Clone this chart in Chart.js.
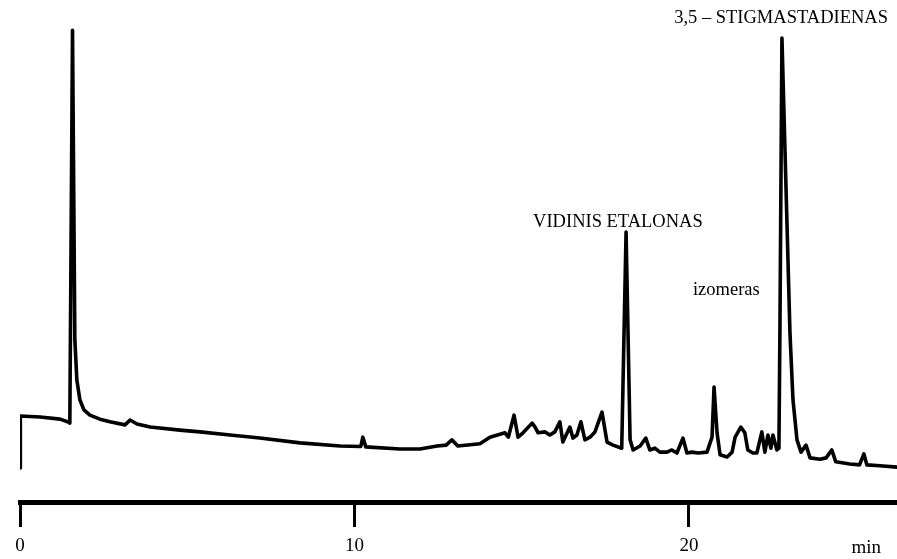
<!DOCTYPE html>
<html>
<head>
<meta charset="utf-8">
<title>Chromatograma</title>
<script src="https://cdn.jsdelivr.net/npm/chart.js@4/dist/chart.umd.min.js"></script>
<style>
  html, body { margin: 0; padding: 0; background: #fff; }
  canvas { display: block; }
</style>
</head>
<body>
<canvas id="chromatogram" width="897" height="559"></canvas>
<script>
// retention time (min) and detector response of the trace
const retentionMin = [
  0, 0.01, 0.6, 1.2, 1.46, 1.49, 1.57, 1.64, 1.70, 1.79,
  1.91, 2.09, 2.39, 2.69, 3.14, 3.29, 3.50, 3.89, 4.78, 5.38,
  6.28, 7.17, 8.37, 9.57, 10.19, 10.25, 10.34, 11.36, 11.96, 12.47,
  12.74, 12.91, 13.09, 13.75, 14.05, 14.50, 14.60, 14.77, 14.89, 15.04,
  15.31, 15.40, 15.49, 15.70, 15.84, 15.99, 16.14, 16.23, 16.44, 16.53,
  16.65, 16.77, 16.89, 17.04, 17.19, 17.40, 17.55, 17.73, 17.99, 18.12,
  18.24, 18.33, 18.54, 18.71, 18.83, 18.98, 19.13, 19.34, 19.49, 19.64,
  19.82, 19.94, 20.09, 20.27, 20.54, 20.69, 20.75, 20.84, 20.93, 21.14,
  21.29, 21.38, 21.55, 21.67, 21.76, 21.91, 22.03, 22.18, 22.27, 22.36,
  22.45, 22.51, 22.63, 22.69, 22.72, 22.78, 23.02, 23.11, 23.23, 23.35,
  23.50, 23.62, 23.92, 24.10, 24.27, 24.39, 24.81, 25.10, 25.23, 25.32,
  25.71, 26.22
];
const detectorSignal = [
  0, 11.8, 11.6, 11.1, 10.4, 10.2, 99.5, 29.1, 20.0, 15.5,
  13.2, 12.0, 11.1, 10.5, 9.8, 10.9, 10.0, 9.3, 8.6, 8.2,
  7.5, 6.8, 5.7, 5.0, 4.9, 7.0, 4.8, 4.3, 4.3, 5.0,
  5.2, 6.4, 5.0, 5.5, 7.0, 8.0, 7.0, 12.0, 7.0, 8.0,
  10.2, 9.3, 8.0, 8.2, 7.5, 8.2, 10.5, 5.9, 9.3, 6.8,
  7.5, 10.5, 6.4, 7.0, 8.2, 12.7, 5.9, 5.2, 4.5, 53.6,
  6.4, 4.1, 5.0, 6.8, 4.1, 4.5, 3.6, 3.6, 4.1, 3.4,
  6.8, 3.4, 3.6, 3.4, 3.6, 7.0, 18.4, 8.0, 3.0, 2.5,
  3.6, 7.0, 9.3, 8.0, 4.1, 3.4, 3.4, 8.2, 3.6, 7.5,
  4.5, 7.5, 4.1, 4.5, 31.4, 97.7, 30.7, 15.5, 6.4, 3.6,
  5.2, 2.3, 2.0, 2.3, 4.1, 1.4, 0.9, 0.7, 3.2, 0.7,
  0.5, 0.2
];
const timeTicks = [0, 10, 20];
const axisUnit = 'min';

// peak names, placed in data units
const peakLabels = [
  { text: '3,5 – STIGMASTADIENAS', x: 25.95, y: 101.1, align: 'right' },
  { text: 'VIDINIS ETALONAS', x: 15.34, y: 54.8, align: 'left' },
  { text: 'izomeras', x: 20.12, y: 39.3, align: 'left' }
];

const serif = "'Liberation Serif', 'Times New Roman', serif";
const tickLen = 25;
const tickPad = 8;
const tickFontSize = 19;

const peakLabelPlugin = {
  id: 'peakLabels',
  afterDraw(chart) {
    const { ctx, scales: { x, y } } = chart;
    ctx.save();
    ctx.fillStyle = '#000';
    ctx.font = '18.5px ' + serif;
    ctx.textBaseline = 'alphabetic';
    peakLabels.forEach(l => {
      ctx.textAlign = l.align;
      ctx.fillText(l.text, x.getPixelForValue(l.x), y.getPixelForValue(l.y));
    });
    // unit at the end of the time axis, level with the tick labels
    ctx.font = tickFontSize + 'px ' + serif;
    ctx.textAlign = 'right';
    ctx.textBaseline = 'middle';
    ctx.fillText(axisUnit, chart.chartArea.right - 16, x.top + tickLen + tickPad + tickFontSize * 0.6 + 2);
    ctx.restore();
  }
};

const points = retentionMin.map((t, i) => ({ x: t, y: detectorSignal[i] }));

new Chart(document.getElementById('chromatogram').getContext('2d'), {
  type: 'line',
  data: {
    datasets: [{
      data: points,
      borderColor: '#000',
      borderWidth: 3.6,
      borderJoinStyle: 'round',
      borderCapStyle: 'round',
      pointRadius: 0,
      tension: 0,
      fill: false
    }]
  },
  options: {
    responsive: false,
    animation: false,
    layout: { padding: { left: 20, right: 0, top: 0, bottom: 1 } },
    plugins: {
      legend: { display: false },
      tooltip: { enabled: false }
    },
    scales: {
      x: {
        type: 'linear',
        min: 0,
        max: 26.22,
        afterBuildTicks: axis => { axis.ticks = timeTicks.map(v => ({ value: v })); },
        afterFit: axis => { axis.height = 56; },
        ticks: {
          includeBounds: false,
          color: '#000',
          padding: tickPad,
          maxRotation: 0,
          font: { family: serif, size: tickFontSize }
        },
        grid: {
          drawOnChartArea: false,
          drawTicks: true,
          tickLength: tickLen,
          color: '#000',
          lineWidth: 3
        },
        border: { display: true, color: '#000', width: 5 }
      },
      y: {
        display: false,
        min: -7.73,
        max: 106.36
      }
    }
  },
  plugins: [peakLabelPlugin]
});
</script>
</body>
</html>
